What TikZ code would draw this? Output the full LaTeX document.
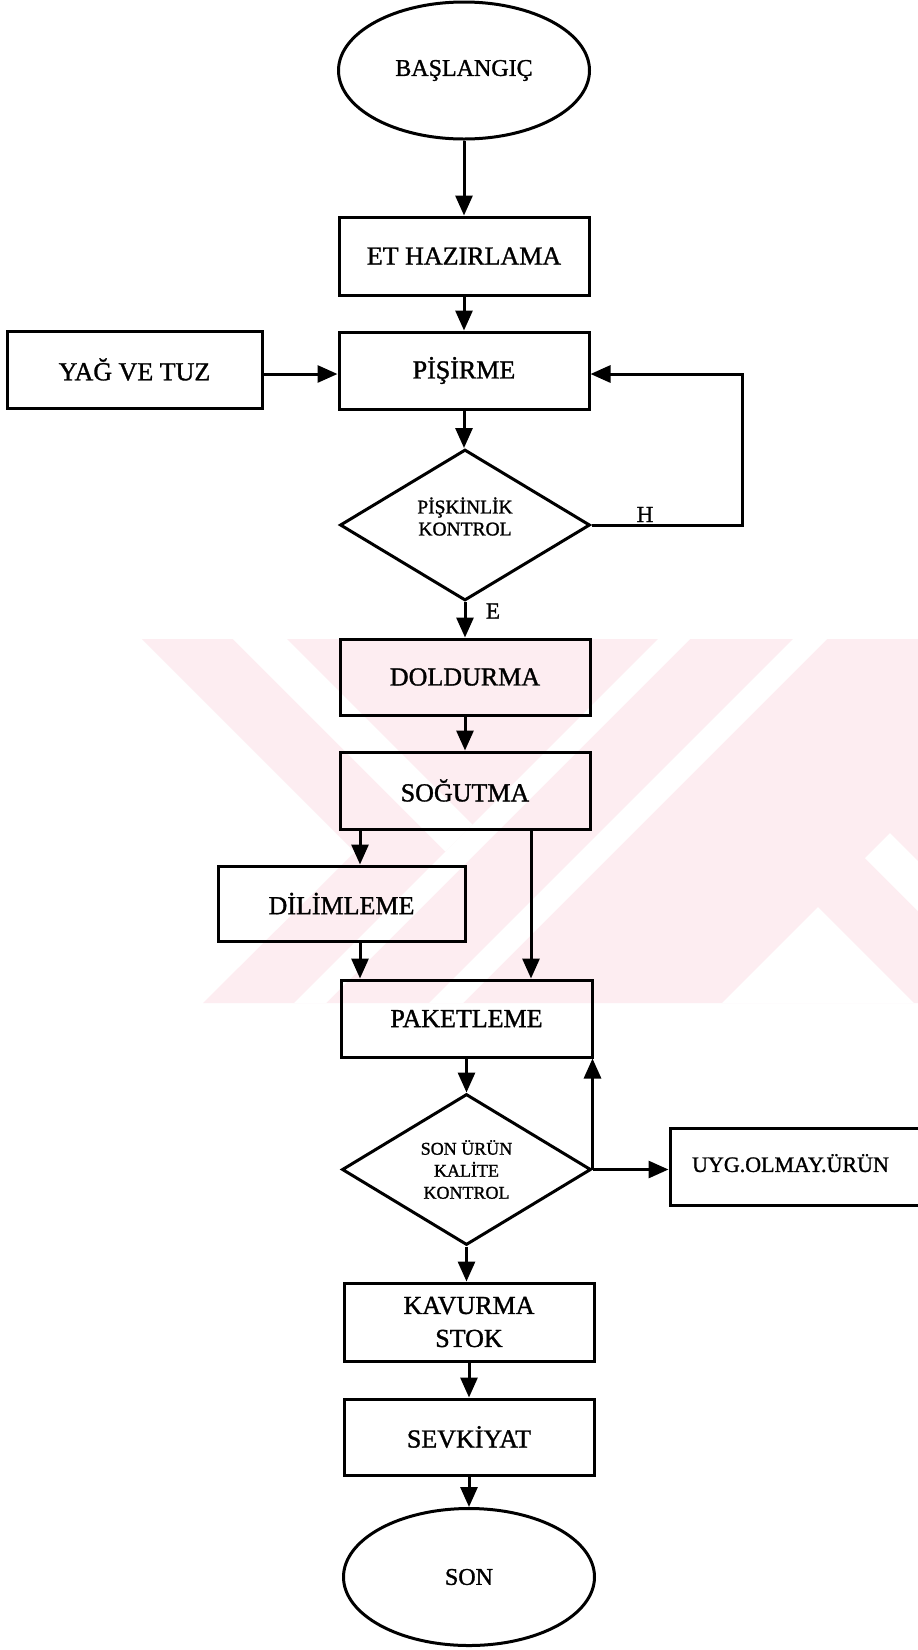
\documentclass[tikz,border=0pt]{standalone}
\usepackage{fontspec}
\setmainfont[FakeBold=1.2]{Liberation Serif}
\usetikzlibrary{shapes.geometric,arrows.meta,calc}
\definecolor{wmpink}{RGB}{253,237,241}
\begin{document}
\begin{tikzpicture}[x=1pt,y=-1pt,
  lw/.style={line width=3pt},
  box/.style={draw, lw, rectangle, minimum width=250pt, minimum height=77pt, inner sep=2pt, font=\fontsize{26}{33}\selectfont, align=center},
  term/.style={draw, lw, ellipse, minimum width=251pt, minimum height=137pt, inner sep=0pt, font=\fontsize{24}{28}\selectfont},
  dec/.style={draw, lw, diamond, minimum width=250pt, minimum height=151pt, inner sep=0pt, align=center},
  dectext/.style={inner sep=0pt, align=center},
  arr/.style={lw, -{Triangle[length=20pt,width=17pt]}},
  lbl/.style={font=\fontsize{23}{26}\selectfont, inner sep=0pt}
]
\useasboundingbox (0,0) rectangle (918,1650);
\clip (0,0) rectangle (918,1650);
\fill[white] (0,0) rectangle (918,1650);

% watermark
\begin{scope}
  \clip (142,639) -- (918,639) -- (918,1003) -- (203,1003) -- (355,852) -- cycle;
  \fill[wmpink] (100,600) rectangle (930,1010);
  \fill[white] (194,600) -- (248,600) -- (472.5,824.5) -- (445.5,851.5) -- cycle;
  \fill[white] (697,600) -- (729,600) -- (289,1040) -- (257,1040) -- cycle;
  \fill[white] (832,600) -- (866,600) -- (426,1040) -- (392,1040) -- cycle;
  \fill[white] (890,833) -- (1000,943) -- (1000,993) -- (865,858) -- cycle;
  \fill[white] (818,907) -- (936,1025) -- (700,1025) -- cycle;
\end{scope}

% nodes
\node[term] (start) at (464,70.5) {BAŞLANGIÇ};
\node[box, minimum height=78pt] (et) at (464,256) {ET HAZIRLAMA};
\node[box] (pis) at (464,370.5) {PİŞİRME};
\node[box, minimum width=255pt] (yag) at (134.5,369.5) {YAĞ VE TUZ};
\node[dec] (k1) at (465,525) {};
\node[dectext, font=\fontsize{19.5}{22}\selectfont] (k1t) at (465,516.5) {PİŞKİNLİK\\KONTROL};
\node[box, minimum height=76pt] (dold) at (465,677) {DOLDURMA};
\node[box] (sog) at (465,790.5) {SOĞUTMA};
\node[box, minimum width=247pt, minimum height=75pt] (dil) at (341.5,903.5) {DİLİMLEME};
\node[box, minimum width=251pt] (pak) at (466.5,1018.5) {PAKETLEME};
\node[dec, minimum width=249pt, font=\fontsize{18}{22}\selectfont] (k2) at (466.5,1169.5) {SON ÜRÜN\\KALİTE\\KONTROL};
\node[box, minimum width=255pt, font=\fontsize{22}{24}\selectfont] (uyg) at (797.5,1166.5) {\raisebox{7pt}{UYG.OLMAY.ÜRÜN}\hspace{14pt}};
\node[box, minimum height=78pt] (kav) at (469,1322) {KAVURMA\\STOK};
\node[box, minimum height=76pt] (sevk) at (469,1437) {SEVKİYAT};
\node[term] (son) at (469,1577) {SON};

\node[lbl] (hl) at (645,514.5) {H};
\node[lbl] (el) at (493,611) {E};

% connectors
\coordinate (hturn) at (742,525);
\coordinate (pin) at ([yshift=-3.5pt]pis.east);
\coordinate (yin) at ([yshift=-4.5pt]yag.east);
\coordinate (dtop) at ([xshift=18.5pt]dil.north);
\coordinate (ptop) at ([xshift=64.5pt]pak.north);

\draw[arr] (start.south) -- (start.south |- et.north);
\draw[arr] (et.south) -- (et.south |- pis.north);
\draw[arr] (yin) -- (yin -| pis.west);
\draw[arr] (pis.south) -- (pis.south |- k1.north);
\draw[arr] (k1.east) -- (k1.east -| hturn) |- (pin);
\draw[arr] (k1.south) -- (k1.south |- dold.north);
\draw[arr] (dold.south) -- (dold.south |- sog.north);
\draw[arr] (dtop |- sog.south) -- (dtop);
\draw[arr] (ptop |- sog.south) -- (ptop);
\draw[arr] (dtop |- dil.south) -- (dtop |- pak.north);
\draw[arr] (pak.south) -- (pak.south |- k2.north);
\draw[arr] (k2.east) -- (k2.east |- pak.south);
\draw[arr] (k2.east) -- (k2.east -| uyg.west);
\draw[arr] (k2.south) -- (k2.south |- kav.north);
\draw[arr] (kav.south) -- (kav.south |- sevk.north);
\draw[arr] (sevk.south) -- (sevk.south |- son.north);
\end{tikzpicture}
\end{document}
